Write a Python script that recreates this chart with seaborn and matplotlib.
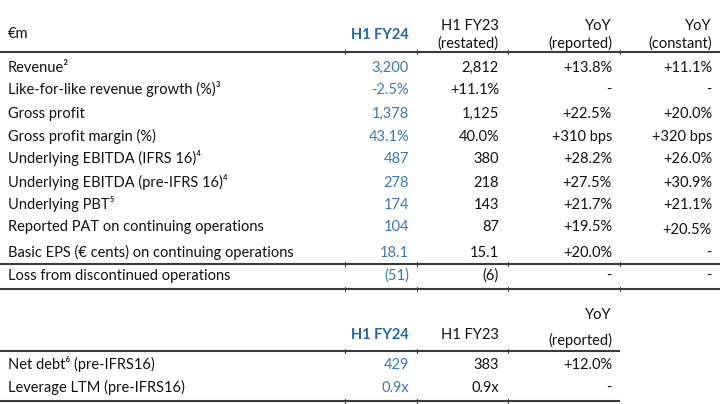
import matplotlib
matplotlib.use("Agg")
import matplotlib.pyplot as plt
import seaborn as sns

sns.set_theme(style="white")
plt.rcParams['font.family'] = ['Lato', 'DejaVu Sans']

# ---- data ----
labels = ["Revenue²", "Like-for-like revenue growth (%)³", "Gross profit",
          "Gross profit margin (%)", "Underlying EBITDA (IFRS 16)⁴",
          "Underlying EBITDA (pre-IFRS 16)⁴", "Underlying PBT⁵",
          "Reported PAT on continuing operations",
          "Basic EPS (€ cents) on continuing operations",
          "Loss from discontinued operations"]
fy24 = ["3,200", "-2.5%", "1,378", "43.1%", "487", "278", "174", "104", "18.1", "(51)"]
fy23 = ["2,812", "+11.1%", "1,125", "40.0%", "380", "218", "143", "87", "15.1", "(6)"]
yoy_rep = ["+13.8%", "-", "+22.5%", "+310 bps", "+28.2%", "+27.5%", "+21.7%",
           "+19.5%", "+20.0%", "-"]
yoy_const = ["+11.1%", "-", "+20.0%", "+320 bps", "+26.0%", "+30.9%", "+21.1%",
             "+20.5%", "-", "-"]
headers = ["€m", "H1 FY24", ["H1 FY23", "(restated)"], ["YoY", "(reported)"],
           ["YoY", "(constant)"]]

labels2 = ["Net debt⁶ (pre-IFRS16)", "Leverage LTM (pre-IFRS16)"]
fy24_2 = ["429", "0.9x"]
fy23_2 = ["383", "0.9x"]
yoy_rep2 = ["+12.0%", "-"]
headers2 = ["H1 FY24", "H1 FY23", ["YoY", "(reported)"]]

# ---- layout ----
W, H = 725, 404
fig = plt.figure(figsize=(W / 100, H / 100), dpi=100)
ax = fig.add_axes([0, 0, 1, 1])
ax.set_xlim(0, W)
ax.set_ylim(H, 0)
ax.axis("off")

FS = 10.5
BLACK = "#111111"
BLUE_H = "#2466a6"
BLUE_V = "#3b78b5"
LINE = "#3a3a3a"

x_label = 8
col_right = [409, 499, 612, 712]
ticks_x = [345, 417, 508, 620]

# baselines
row_y = [72, 94, 118, 141, 163, 187, 209, 231, 257, 280]

def txt(x, y, s, color=BLACK, ha="right", **kw):
    ax.text(x, y, s, fontsize=FS, color=color, va="baseline", ha=ha, **kw)

def hline(y, x0, x1):
    ax.plot([x0, x1], [y, y], color=LINE, lw=1.5, solid_capstyle="butt")
    for tx in ticks_x:
        if tx < x1:
            ax.plot([tx, tx], [y - 2, y + 2], color=LINE, lw=0.8)

# header table 1
txt(x_label, 38, headers[0], ha="left")
txt(col_right[0], 39, headers[1], color=BLUE_H, fontweight="bold")
for i, h in enumerate(headers[2:]):
    txt(col_right[i + 1], 30, h[0])
    txt(col_right[i + 1], 48, h[1])

hline(52, 0, 720)

for i, y in enumerate(row_y):
    txt(x_label, y, labels[i], ha="left")
    txt(col_right[0], y, fy24[i], color=BLUE_V)
    txt(col_right[1], y, fy23[i])
    txt(col_right[2], y, yoy_rep[i])
    yc = y + 3 if i == 7 else y
    txt(col_right[3], yc, yoy_const[i])

hline(264, 0, 720)
hline(289, 0, 720)

# table 2
txt(col_right[0], 339, headers2[0], color=BLUE_H, fontweight="bold")
txt(col_right[1], 339, headers2[1])
txt(col_right[2], 319, headers2[2][0])
txt(col_right[2], 345, headers2[2][1])

hline(351, 0, 620)
row_y2 = [369, 392]
for i, y in enumerate(row_y2):
    txt(x_label, y, labels2[i], ha="left")
    txt(col_right[0], y, fy24_2[i], color=BLUE_V)
    txt(col_right[1], y, fy23_2[i])
    txt(col_right[2], y, yoy_rep2[i])
hline(401, 0, 620)

fig.savefig("out.png", dpi=100, facecolor="white")
